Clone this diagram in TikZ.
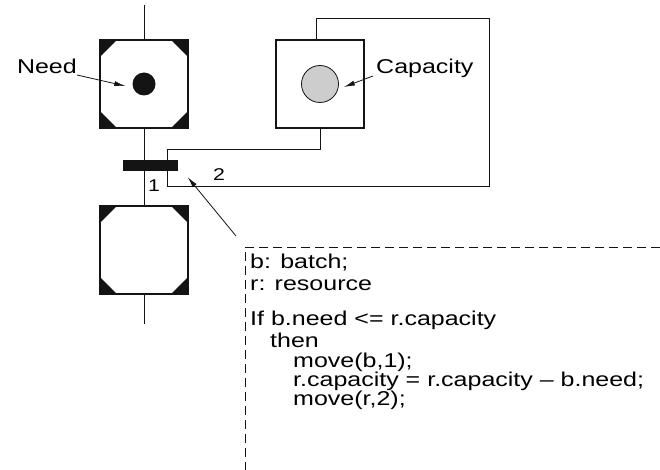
\documentclass[tikz,border=0pt]{standalone}
\usepackage{fontspec}
\setmainfont[FakeStretch=1.25]{Liberation Sans}
\usetikzlibrary{positioning,arrows.meta}
\definecolor{pnink}{RGB}{20,20,20}
\definecolor{pnshade}{RGB}{205,205,205}
\tikzset{
  place/.style={draw=pnink,line width=1.2pt,minimum width=88,minimum height=88,inner sep=0},
  bar/.style={fill=pnink,minimum width=55,minimum height=11,inner sep=0},
  arc/.style={draw=pnink,line width=0.8pt},
  lbl/.style={font=\fontsize{20}{22}\selectfont,inner sep=0},
  arclbl/.style={font=\fontsize{17}{19}\selectfont,inner sep=0},
  ptr/.style={arc,-{Latex[length=11,width=5]}},
}
\begin{document}
\begin{tikzpicture}[x=1pt,y=-1pt]
      \useasboundingbox (0,0) rectangle (660,470);
      % places and transition
      \node[place] (batchin) at (144,84) {};
      \node[place] (batchout) at (144,250) {};
      \node[place] (res) at (320,84) {};
      \node[bar] (trans) at (150,165.5) {};
      \foreach \p in {batchin,batchout}
        \foreach \a/\sx/\sy in {north west/1/1, north east/-1/1, south west/1/-1, south east/-1/-1}
          {\fill[pnink] (\p.\a) -- ++(\sx*18,0) -- ++(-\sx*18,\sy*18) -- cycle;}
      \node[circle,fill=pnink,minimum size=23,inner sep=0] (needtok) at (batchin) {};
      \node[circle,draw=pnink,fill=pnshade,thick,minimum size=37,inner sep=0] (captok) at (res) {};
      % batch flow
      \coordinate (top) at (144,5);
      \coordinate (bot) at (144,324);
      \draw[arc] (top) -- (batchin.north);
      \draw[arc] (batchin.south) -- (batchin.south |- trans.north);
      \draw[arc] (batchin.south |- trans.south) -- (batchout.north);
      \draw[arc] (batchout.south) -- (bot);
      \node[arclbl] (one) at (154,186) {1};
      % resource loop
      \coordinate (in2) at (167,149);
      \coordinate (out2) at (167,186);
      \coordinate (loop) at (489,18);
      \draw[arc] (res.south) |- (in2) -- (in2 |- trans.north);
      \draw[arc] (out2 |- trans.south) -- (out2) -| (loop) -| ([xshift=-4]res.north);
      \node[arclbl] (two) at (219,175) {2};
      % labels
      \node[lbl,anchor=base east] (needlbl) at (77,74) {Need};
      \draw[ptr] ([yshift=-1]needlbl.base east) -- ([xshift=-7,yshift=-2]needtok.west);
      \node[lbl,anchor=base west] (caplbl) at (376,74) {Capacity};
      \draw[ptr] ([xshift=-3,yshift=-2]caplbl.base west) -- ([xshift=5,yshift=-3]captok.east);
      % firing rule
      \coordinate (note) at (236,236);
      \draw[ptr] (note) -- ([xshift=10,yshift=-6]trans.south east);
      \draw[arc,dash pattern=on 9pt off 5pt] (660,247) -| (245,470);
      \foreach \y/\x/\txt in {268/250/{b: batch;}, 290/250/{r: resource}, 325/250/{If b.need <= r.capacity},
          347/270/{then}, 367/293/{move(b,1);}, 386/293/{r.capacity = r.capacity -- b.need;}, 405/293/{move(r,2);}}
        {\node[lbl,anchor=base west] at (\x,\y) {\txt};}
    \end{tikzpicture}
\end{document}
